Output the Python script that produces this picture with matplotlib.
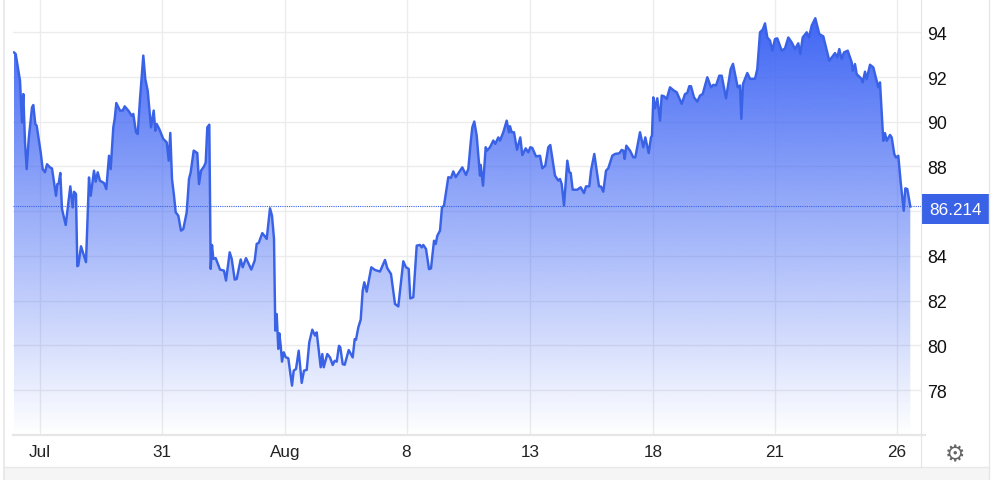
import numpy as np
import matplotlib
matplotlib.use('Agg')
import matplotlib.pyplot as plt
from matplotlib.lines import Line2D
from matplotlib.patches import Rectangle, Polygon

plt.rcParams['font.family'] = ['Liberation Sans', 'DejaVu Sans']

# bar number along the time axis
bars = [14, 15.7, 20, 22, 23.3, 25, 26.7, 28.7, 32, 33.3, 35.3, 36.7, 40.7, 42.7, 45, 47, 50, 52, 56, 57.3,
        58.7, 60.3, 62, 65.7, 70.3, 72.7, 74, 76, 77.3, 78.3, 81, 86, 89, 90.7, 94, 95.7, 97.7, 100, 101.7, 104,
        106.3, 109, 110.7, 113.3, 114.7, 116.3, 120, 122.7, 124.7, 128.3, 131.7, 133.3, 136, 137.7, 140, 143.3,
        145.3, 147.7, 151, 153.7, 155.3, 156.7, 159.3, 163.3, 166.7, 168.7, 170.3, 172, 174, 175.7, 178.3, 181,
        183.3, 186.7, 189, 190.7, 193.7, 197.3, 199, 201, 204, 205.7, 207.3, 209.3, 210.7, 212, 213.3, 215.7,
        220, 224, 226, 229.7, 231.7, 234.7, 236.7, 240.7, 242.7, 246, 251.3, 254.7, 256.7, 258.7, 262.3, 265,
        266.7, 270, 272, 274, 275, 275.3, 276.7, 278.3, 279.3, 280.7, 282, 283.7, 285.7, 288.3, 292, 293.7, 296,
        298.7, 301.7, 304, 306.7, 309.3, 312.3, 315, 316.7, 320.7, 322.3, 323.7, 327.3, 330, 332.7, 334.7, 336.7,
        339, 340.3, 342.7, 344.7, 348.7, 352.7, 354.7, 356, 358.3, 360.7, 362.7, 364.3, 366.7, 371.3, 375, 380,
        385, 387.3, 391, 395, 398.3, 403.3, 406, 408.7, 410.3, 413.3, 416.7, 420, 421.7, 423.3, 426, 429, 431,
        434, 435.7, 437.3, 440, 442, 444, 448.3, 451, 453.3, 455.7, 462.3, 466, 468.3, 470.7, 472.3, 474.3, 476.7,
        480, 480.7, 483, 485.7, 487, 490, 493.3, 495.3, 498.3, 500, 503.3, 506.7, 509, 510, 511.7, 514, 517,
        520.3, 522.3, 525.7, 528.3, 530.3, 532.3, 536, 540, 542.3, 545.3, 548.3, 550.3, 555, 558.3, 560, 561.7,
        564, 567.3, 569.3, 570.7, 572.7, 577.3, 580.7, 584, 586, 589.3, 591, 594.3, 599, 601, 603.3, 606, 608.3,
        612.3, 615, 619.3, 621.7, 623.3, 624.7, 626.3, 630, 633.3, 635.3, 640, 643.3, 645.3, 648.7, 651, 652,
        653.3, 655, 657.3, 660, 661.7, 664, 666.7, 670, 674, 676.7, 681.7, 685, 687.3, 689.3, 691, 694, 697.3,
        700, 702.7, 707.3, 711, 713.3, 716, 719.3, 721.7, 726, 730.7, 733, 735, 737.7, 740, 741.3, 743, 747.3,
        750, 755, 757.3, 760, 762.7, 765, 767.3, 770, 772.3, 775, 777.3, 781.7, 785, 788.3, 791.7, 795, 798.3,
        800.3, 802.7, 806.7, 809, 811.7, 815.3, 819.3, 823.3, 829.3, 835, 837.3, 839.3, 841.7, 844, 847.7, 851.7,
        852.7, 855, 856.7, 861.7, 862.7, 865, 866.7, 870, 873.3, 878.3, 880, 883.3, 885, 886.7, 890, 891.7, 894.3,
        896, 898.3, 900.7, 903.7, 905.3, 907.3, 910.3]
prices = [93.1, 93.03, 91.84, 89.97, 91.24, 89.08, 87.88, 89.23, 90.64, 90.75, 89.9, 89.82, 88.63, 87.88, 87.74, 88.1,
          87.96, 87.91, 86.69, 87.21, 87.24, 87.71, 86.1, 85.38, 87.11, 86.17, 86.87, 86.77, 83.54, 83.57, 84.43,
          83.72, 87.51, 86.69, 87.81, 87.32, 87.74, 87.36, 87.32, 87.26, 86.99, 88.48, 87.88, 89.75, 90.12, 90.84,
          90.5, 90.5, 90.69, 90.5, 90.27, 90.35, 89.53, 89.45, 91.02, 92.96, 91.91, 91.39, 89.75, 90.5, 89.6, 89.9,
          89.67, 89.23, 89.08, 88.26, 89.5, 87.44, 86.69, 85.95, 85.8, 85.13, 85.2, 85.95, 87.44, 87.74, 88.71,
          88.6, 87.21, 87.81, 88.0, 88.18, 89.75, 89.87, 83.42, 84.49, 83.87, 83.9, 83.39, 83.34, 82.9, 84.16,
          83.87, 82.94, 82.97, 83.84, 83.49, 83.9, 83.39, 83.79, 84.54, 84.58, 85.02, 84.87, 84.76, 86.13, 85.8,
          84.76, 81.78, 80.66, 81.4, 79.84, 80.54, 79.99, 79.27, 79.69, 79.47, 79.42, 78.2, 78.87, 78.94, 79.76,
          78.32, 78.87, 78.9, 80.14, 80.7, 80.44, 80.58, 79.02, 79.61, 79.02, 79.61, 79.46, 79.12, 79.31, 79.27,
          79.98, 79.91, 79.16, 79.13, 79.79, 79.46, 80.28, 80.25, 80.8, 81.15, 82.45, 82.82, 82.4, 83.49, 83.37,
          83.3, 83.82, 83.45, 83.19, 81.85, 81.74, 83.76, 83.49, 83.42, 82.1, 82.15, 84.46, 84.49, 84.38, 84.49,
          84.31, 83.41, 83.44, 84.68, 84.53, 84.9, 85.13, 86.17, 86.25, 87.52, 87.49, 87.78, 87.52, 87.96, 87.62,
          87.89, 89.08, 89.75, 90.01, 89.38, 87.59, 88.07, 87.14, 88.86, 88.71, 88.86, 89.16, 89.01, 89.3, 89.16,
          89.53, 90.05, 89.53, 89.8, 89.53, 89.53, 88.75, 89.3, 88.51, 88.81, 88.63, 88.86, 88.83, 88.45, 88.48,
          87.92, 88.04, 88.86, 88.96, 87.59, 87.37, 87.44, 87.22, 86.25, 88.26, 87.74, 87.71, 86.96, 86.96, 87.07,
          86.81, 87.11, 87.11, 87.81, 88.56, 87.11, 87.1, 86.87, 87.81, 87.92, 88.48, 88.56, 88.59, 88.74, 88.71,
          88.34, 88.93, 88.71, 88.41, 88.41, 89.53, 88.86, 89.3, 88.6, 89.3, 89.38, 91.09, 90.6, 91.05, 90.05,
          91.17, 91.14, 91.02, 91.54, 91.39, 91.32, 90.8, 91.24, 91.29, 91.59, 91.59, 91.09, 90.9, 91.17, 91.24,
          91.99, 91.54, 91.65, 91.62, 92.06, 92.06, 91.05, 92.36, 92.59, 92.14, 91.54, 91.62, 90.13, 91.69, 92.18,
          91.92, 91.92, 92.36, 94.0, 94.12, 94.4, 93.77, 93.63, 93.18, 93.7, 93.73, 93.18, 93.28, 93.77, 93.55,
          93.25, 93.51, 93.03, 93.77, 94.0, 93.77, 94.3, 94.63, 93.92, 93.82, 92.73, 93.07, 92.88, 93.25, 92.81,
          93.1, 93.18, 92.66, 92.28, 92.58, 92.13, 91.91, 91.76, 92.24, 91.91, 92.55, 92.43, 91.54, 91.76, 89.15,
          89.49, 89.15, 89.41, 89.3, 88.55, 88.4, 88.48, 87.29, 86.02, 87.02, 86.99, 86.21]
last_price = 86.214

x_tick_bars = [39.5, 161.5, 285, 406.5, 530, 653, 775, 897]
x_tick_labels = ['Jul', '31', 'Aug', '8', '13', '18', '21', '26']
y_ticks = [78, 80, 82, 84, 86, 88, 90, 92, 94]
# the 86 label sits behind the last price badge in the original
y_tick_labels = ['78', '80', '82', '84', '', '88', '90', '92', '94']

blue = '#3a62e6'

fig = plt.figure(figsize=(10, 4.81), dpi=100)
ax = fig.add_axes([0.013, 1 - 436 / 481, 0.908, 436 / 481])
ax.set_xlim(13, 921)
ax.set_ylim(75.99, 95.49)
for s in ax.spines.values():
    s.set_visible(False)

ax.set_xticks(x_tick_bars)
ax.set_xticklabels(x_tick_labels, fontsize=12.3, color='#222222')
ax.set_yticks(y_ticks)
ax.set_yticklabels(y_tick_labels)
ax.yaxis.tick_right()
ax.tick_params(axis='both', length=0)
ax.tick_params(axis='y', pad=4.5, labelsize=12.8, labelcolor='#111111')
ax.tick_params(axis='x', pad=6.5)
ax.grid(True, color='#ececec', lw=1)
ax.set_axisbelow(True)

# gradient fill under the line, clipped to the price polygon
rgba = np.zeros((256, 1, 4))
rgba[..., :3] = matplotlib.colors.to_rgb('#3d64f4')
rgba[..., 3] = np.linspace(1.0, 0.0, 256)[:, None]
img = ax.imshow(rgba, aspect='auto', origin='upper', zorder=2,
                extent=(bars[0], bars[-1], 75.99, 94.9))
poly = Polygon(list(zip(bars, prices)) + [(bars[-1], 75.99), (bars[0], 75.99)], closed=True,
               transform=ax.transData, fc='none', ec='none')
ax.add_patch(poly)
img.set_clip_path(poly)
ax.set_xlim(13, 921)
ax.set_ylim(75.99, 95.49)

ax.plot(bars, prices, color=blue, lw=1.75, zorder=3, solid_joinstyle='round')
ax.axhline(last_price, color=blue, lw=0.8, ls=(0, (1, 1)), zorder=4)

# frame and footer around the plot
W, H = 1000, 481
fig.add_artist(Rectangle((4 / W, 0), 985 / W, 13 / H, transform=fig.transFigure, fc='#f5f5f5', ec='none'))
for xs, ys, c, w in [([4, 4], [0, 481], '#e6e6e6', 1.2),
                     ([989, 989], [0, 481], '#e6e6e6', 1.0),
                     ([4, 989], [468, 468], '#e8e8e8', 1.0),
                     ([920.5, 920.5], [0, 468], '#e4e4e4', 0.8),
                     ([13, 925], [436, 436], '#e6e6e6', 1.6)]:
    fig.add_artist(Line2D(np.array(xs) / W, 1 - np.array(ys) / H, color=c, lw=w))

# last price badge
fig.add_artist(Rectangle((921 / W, 1 - 225 / H), 68 / W, 30 / H, transform=fig.transFigure, fc=blue, ec='none'))
fig.text(955 / W, 1 - 210.5 / H, f'{last_price:.3f}', color='white', fontsize=12.3, ha='center', va='center')

# settings gear
fig.text(955 / W, 1 - 455 / H, '\u2699', color='#666666', fontsize=16.5, ha='center', va='center',
         family='DejaVu Sans')

fig.savefig('out.png', dpi=100)
